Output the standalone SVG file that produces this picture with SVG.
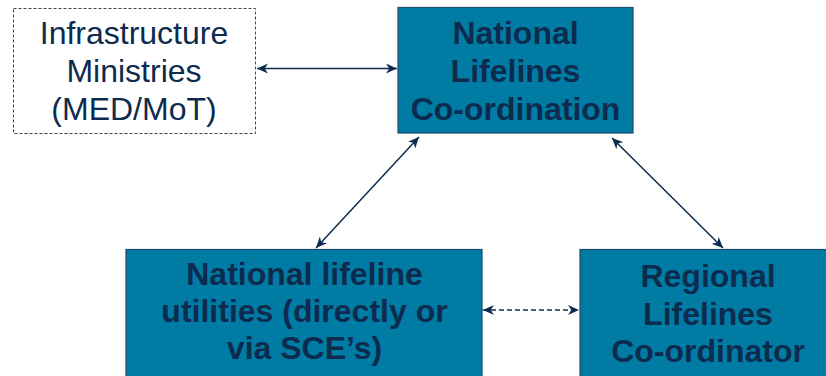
<svg xmlns="http://www.w3.org/2000/svg" width="826" height="376" viewBox="0 0 826 376">
<defs>
<style>
.box{fill:#007BA3;stroke:#1B4A6B;stroke-width:1.2}
.dash{fill:#fff;stroke:#444;stroke-width:1;stroke-dasharray:3,2}
.t{font-family:"Liberation Sans",Arial,sans-serif;font-size:32px;fill:#0D2B4E;text-anchor:middle}
.b{font-weight:bold}
.c{fill:none;stroke:#0D2B4E;stroke-width:1.5}
.d{stroke-dasharray:5,3}
</style>
<marker id="ah" viewBox="0 0 10 10" refX="10" refY="5" markerWidth="11" markerHeight="11" markerUnits="userSpaceOnUse" orient="auto-start-reverse">
<path d="M0,0.5 L10,5 L0,9.5 L3,5 z" fill="#0D2B4E"/>
</marker>
</defs>
<g id="ministries">
<rect class="dash" x="13.5" y="8.5" width="242" height="125"/>
<text class="t"><tspan x="134" y="44">Infrastructure</tspan><tspan x="134" y="82">Ministries</tspan><tspan x="134" y="120">(MED/MoT)</tspan></text>
</g>
<g id="national-coordination">
<rect class="box" x="398" y="7.5" width="235" height="125.5"/>
<text class="t b"><tspan x="515.5" y="44">National</tspan><tspan x="515.5" y="82">Lifelines</tspan><tspan x="515.5" y="120">Co-ordination</tspan></text>
</g>
<g id="utilities">
<rect class="box" x="126" y="249.5" width="356" height="128"/>
<text class="t b"><tspan x="304.5" y="285">National lifeline</tspan><tspan x="304.5" y="322">utilities (directly or</tspan><tspan x="304.5" y="359">via SCE’s)</tspan></text>
</g>
<g id="regional">
<rect class="box" x="580" y="249.5" width="260" height="128"/>
<text class="t b"><tspan x="708" y="287">Regional</tspan><tspan x="708" y="325">Lifelines</tspan><tspan x="708" y="362">Co-ordinator</tspan></text>
</g>
<g id="connectors">
<line class="c" x1="257" y1="68.5" x2="397" y2="68.5" marker-start="url(#ah)" marker-end="url(#ah)"/>
<line class="c" x1="419" y1="137" x2="316" y2="248" marker-start="url(#ah)" marker-end="url(#ah)"/>
<line class="c" x1="612" y1="138" x2="723" y2="248" marker-start="url(#ah)" marker-end="url(#ah)"/>
<line class="c d" x1="483" y1="310" x2="579" y2="310" marker-start="url(#ah)" marker-end="url(#ah)"/>
</g>
</svg>
